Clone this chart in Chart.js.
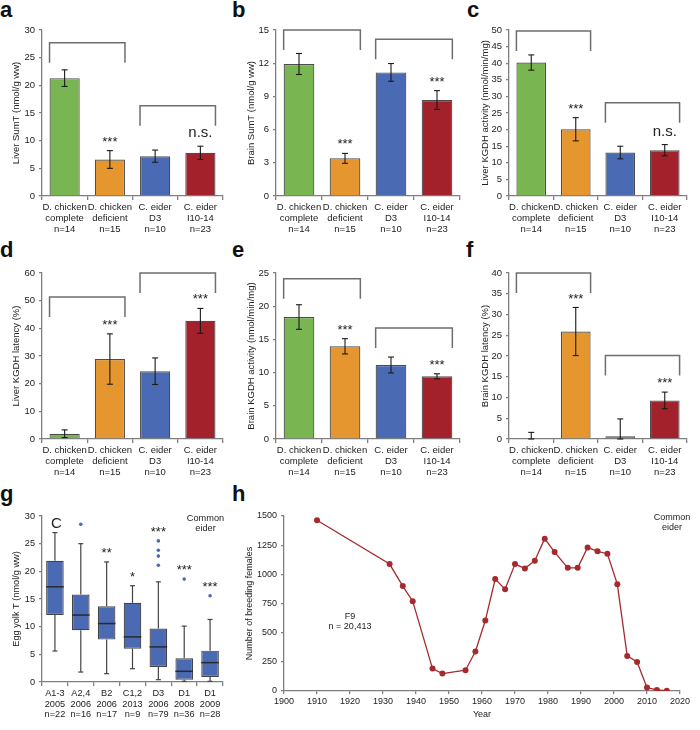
<!DOCTYPE html>
<html>
<head>
<meta charset="utf-8">
<script src="https://cdn.jsdelivr.net/npm/chart.js@4.4.1/dist/chart.umd.min.js"></script>
<style>
body{margin:0;width:700px;height:730px;position:relative;overflow:hidden;background:#fff;font-family:"Liberation Sans",Arial,sans-serif;}
canvas{position:absolute;}
.tag{position:absolute;font-size:22px;line-height:22px;font-weight:bold;color:#111;}
</style>
</head>
<body>
<div class="tag" style="left:0px;top:-1px">a</div>
<div class="tag" style="left:232px;top:-1px">b</div>
<div class="tag" style="left:467px;top:-1px">c</div>
<div class="tag" style="left:0px;top:239px">d</div>
<div class="tag" style="left:232px;top:239px">e</div>
<div class="tag" style="left:466px;top:239px">f</div>
<div class="tag" style="left:0px;top:483px">g</div>
<div class="tag" style="left:232px;top:483px">h</div>

<canvas id="cA"></canvas>
<canvas id="cB"></canvas>
<canvas id="cC"></canvas>
<canvas id="cD"></canvas>
<canvas id="cE"></canvas>
<canvas id="cF"></canvas>
<canvas id="cG"></canvas>
<canvas id="cH"></canvas>

<script>
// ----------------------------
// data: bar panels a-f
// ----------------------------

const groups = [
    ["D. chicken", "complete", "n=14"],
    ["D. chicken", "deficient", "n=15"],
    ["C. eider", "D3", "n=10"],
    ["C. eider", "I10-14", "n=23"]
];
const groupColors = ["#79b652", "#e5962f", "#4a6ab4", "#a3212b"];

const liverSumT = [21.3, 6.6, 7.2, 7.8];
const liverSumTErr = [1.5, 1.6, 1.1, 1.2];
const liverSumTSig = ["", "***", "", "n.s."];
const liverSumTBrackets = [[0, 1, 27.7], [2, 3, 16.3]];

const brainSumT = [11.93, 3.4, 11.17, 8.67];
const brainSumTErr = [0.95, 0.45, 0.8, 0.85];
const brainSumTSig = ["", "***", "", "***"];
const brainSumTBrackets = [[0, 1, 15.0], [2, 3, 14.16]];

const liverKgdh = [40.2, 20.1, 13.1, 13.8];
const liverKgdhErr = [2.3, 3.5, 1.9, 1.7];
const liverKgdhSig = ["", "***", "", "n.s."];
const liverKgdhBrackets = [[0, 1, 49.7], [2, 3, 28.1]];

const liverLatency = [1.9, 28.9, 24.5, 42.7];
const liverLatencyErr = [1.4, 9.1, 4.8, 4.5];
const liverLatencySig = ["", "***", "", "***"];
const liverLatencyBrackets = [[0, 1, 51.3], [2, 3, 60]];

const brainKgdh = [18.37, 13.96, 11.14, 9.44];
const brainKgdhErr = [1.85, 1.15, 1.2, 0.38];
const brainKgdhSig = ["", "***", "", "***"];
const brainKgdhBrackets = [[0, 1, 24.15], [2, 3, 16.7]];

const brainLatency = [0, 25.9, 0.64, 9.3];
const brainLatencyErr = [1.6, 5.8, 4.2, 2.0];
const brainLatencySig = ["", "***", "", "***"];
const brainLatencyBrackets = [[0, 1, 40], [2, 3, 20.1]];

// ----------------------------
// data: egg yolk boxes (g)
// ----------------------------

const yolkGroups = [
    ["A1-3", "2005", "n=22"],
    ["A2,4", "2006", "n=16"],
    ["B2", "2006", "n=17"],
    ["C1,2", "2013", "n=9"],
    ["D3", "2006", "n=79"],
    ["D1", "2008", "n=36"],
    ["D1", "2009", "n=28"]
];
const yolkMin = [5.6, 1.8, 1.5, 2.4, 0.42, 0.12, 0.12];
const yolkQ1 = [12.1, 9.35, 7.66, 6.03, 2.72, 0.42, 0.9];
const yolkMedian = [17.2, 12.1, 10.56, 8.15, 6.34, 1.93, 3.5];
const yolkQ3 = [21.9, 15.8, 13.7, 14.3, 9.66, 4.28, 5.67];
const yolkMax = [27.0, 25.0, 21.7, 17.4, 18.1, 10.1, 11.3];
const yolkOutliers = [[], [28.5], [], [], [25.5, 23.8, 22.75, 21.1], [18.6], [15.6]];
const yolkSig = ["", "", "**", "*", "***", "***", "***"];

// ----------------------------
// data: breeding females (h)
// ----------------------------

const years = [1910, 1932, 1936, 1939, 1945, 1948, 1955, 1958, 1961, 1964, 1967, 1970, 1973, 1976,
    1979, 1982, 1986, 1989, 1992, 1995, 1998, 2001, 2004, 2007, 2010, 2013, 2016];
const females = [1463, 1088, 899, 770, 192, 149, 178, 338, 604, 959, 873, 1088, 1051, 1117,
    1306, 1191, 1056, 1056, 1231, 1197, 1177, 916, 301, 249, 29, 9, 3];

// ----------------------------
// shared styling
// ----------------------------

const FONT = '"Liberation Sans", Arial, Helvetica, sans-serif';
const AXIS = "#7f7f7f";
const INK = "#222222";
const LINE_RED = "#a52a2e";

Chart.defaults.font.family = FONT;
Chart.defaults.animation = false;

function place(id, left, top, width, height) {
    const c = document.getElementById(id);
    c.width = width;
    c.height = height;
    c.style.left = left + "px";
    c.style.top = top + "px";
    c.style.width = width + "px";
    c.style.height = height + "px";
    return c;
}

function axisY(max, step, title, titlePad, width, size) {
    return {
        min: 0, max: max,
        ticks: {stepSize: step, color: INK, padding: 4, font: {size: size}, callback: v => String(v)},
        grid: {drawOnChartArea: false, tickLength: 3, color: AXIS, lineWidth: 1.3},
        border: {color: AXIS, width: 1.3},
        title: {display: true, text: title, color: INK,
            font: {size: size, lineHeight: 1.15}, padding: {top: titlePad, bottom: 0}},
        afterFit: s => { s.width = width; }
    };
}

function axisCat(height, size) {
    return {
        ticks: {color: INK, padding: 2, maxRotation: 0, minRotation: 0, autoSkip: false,
            font: {size: size, lineHeight: 1.16}},
        grid: {drawOnChartArea: false, tickLength: 4, color: AXIS, lineWidth: 1.3, offset: true},
        border: {color: AXIS, width: 1.3},
        afterFit: s => { s.height = height; }
    };
}

function strokeLine(ctx, x1, y1, x2, y2) {
    ctx.beginPath();
    ctx.moveTo(x1, y1);
    ctx.lineTo(x2, y2);
    ctx.stroke();
}

// ----------------------------
// brackets, error bars, whiskers, stars
// ----------------------------

const marks = {
    id: "marks",
    afterDatasetsDraw(chart, args, o) {
        const ctx = chart.ctx;
        const ys = chart.scales.y;
        const bars = chart.getDatasetMeta(0).data;
        const values = chart.data.datasets[0].data;
        ctx.save();

        // comparison brackets
        ctx.strokeStyle = "#6e6e6e";
        ctx.lineWidth = 1.5;
        (o.brackets || []).forEach(([i, j, v]) => {
            const x1 = bars[i].x - bars[i].width / 2;
            const x2 = bars[j].x + bars[j].width / 2;
            const yb = ys.getPixelForValue(v);
            ctx.beginPath();
            ctx.moveTo(x1, yb + 20);
            ctx.lineTo(x1, yb);
            ctx.lineTo(x2, yb);
            ctx.lineTo(x2, yb + 20);
            ctx.stroke();
        });

        // error bars (mean +- err)
        if (o.errs) {
            ctx.strokeStyle = "#1a1a1a";
            ctx.lineWidth = 1.1;
            o.errs.forEach((e, i) => {
                const x = bars[i].x;
                const top = ys.getPixelForValue(values[i] + e);
                const bot = ys.getPixelForValue(Math.max(0, values[i] - e));
                strokeLine(ctx, x, top, x, bot);
                strokeLine(ctx, x - 3, top, x + 3, top);
                strokeLine(ctx, x - 3, bot, x + 3, bot);
            });
        }

        // box plot whiskers and medians
        if (o.box) {
            bars.forEach((b, i) => {
                const x = b.x, hw = b.width / 2;
                const pMin = ys.getPixelForValue(o.box.min[i]);
                const pMax = ys.getPixelForValue(o.box.max[i]);
                const pQ1 = ys.getPixelForValue(o.box.q1[i]);
                const pQ3 = ys.getPixelForValue(o.box.q3[i]);
                const pMed = ys.getPixelForValue(o.box.med[i]);
                ctx.strokeStyle = "#444";
                ctx.lineWidth = 1.2;
                strokeLine(ctx, x, pQ3, x, pMax);
                strokeLine(ctx, x - 2.5, pMax, x + 2.5, pMax);
                strokeLine(ctx, x, pQ1, x, pMin);
                strokeLine(ctx, x - 2.5, pMin, x + 2.5, pMin);
                ctx.strokeStyle = "#2a2a2a";
                ctx.lineWidth = 1.5;
                strokeLine(ctx, x - hw, pMed, x + hw, pMed);
            });
        }

        // significance labels
        ctx.fillStyle = INK;
        ctx.textAlign = "center";
        ctx.textBaseline = "middle";
        (o.sig || []).forEach((s, i) => {
            if (!s) return;
            const x = bars[i].x;
            const top = ys.getPixelForValue(o.tops[i]);
            if (s === "n.s.") {
                ctx.font = "15px " + FONT;
                ctx.fillText(s, x, top - 13);
            } else {
                ctx.font = "13px " + FONT;
                ctx.fillText(s, x, top - 8.5);
            }
        });

        ctx.restore();
    }
};

// ----------------------------
// bar panels
// ----------------------------

function barPanel(id, plot, yMax, yStep, yTitle, titleX, values, errs, sig, brackets) {
    const left = plot.l - 44, top = plot.t - 10;
    const width = plot.r + 10 - left, height = plot.b + 44 - top;
    new Chart(place(id, left, top, width, height), {
        type: "bar",
        data: {
            labels: groups,
            datasets: [{
                data: values,
                backgroundColor: groupColors,
                borderColor: "#4d4d4d",
                borderWidth: 1.2,
                borderSkipped: "bottom",
                barPercentage: 0.667,
                categoryPercentage: 1
            }]
        },
        options: {
            responsive: false,
            layout: {padding: {top: 10, right: 10, left: 0, bottom: 0}},
            plugins: {
                legend: {display: false},
                tooltip: {enabled: false},
                marks: {errs: errs, sig: sig, brackets: brackets, tops: values.map((v, i) => v + errs[i])}
            },
            scales: {
                x: axisCat(44, 9.5),
                y: axisY(yMax, yStep, yTitle, titleX - left - 5.5, 44, 9.5)
            }
        },
        plugins: [marks]
    });
}

const rowTop = {t: 30, b: 196};
const rowMid = {t: 273, b: 439};

barPanel("cA", {l: 42, r: 223, ...rowTop}, 30, 5, "Liver SumT (nmol/g ww)", 16,
    liverSumT, liverSumTErr, liverSumTSig, liverSumTBrackets);
barPanel("cB", {l: 276, r: 460, ...rowTop}, 15, 3, "Brain SumT (nmol/g ww)", 251,
    brainSumT, brainSumTErr, brainSumTSig, brainSumTBrackets);
barPanel("cC", {l: 509, r: 687, ...rowTop}, 50, 5, "Liver KGDH activity (nmol/min/mg)", 485,
    liverKgdh, liverKgdhErr, liverKgdhSig, liverKgdhBrackets);
barPanel("cD", {l: 42, r: 223, ...rowMid}, 60, 10, "Liver KGDH latency (%)", 16,
    liverLatency, liverLatencyErr, liverLatencySig, liverLatencyBrackets);
barPanel("cE", {l: 276, r: 460, ...rowMid}, 25, 5, "Brain KGDH activity (nmol/min/mg)", 251,
    brainKgdh, brainKgdhErr, brainKgdhSig, brainKgdhBrackets);
barPanel("cF", {l: 509, r: 687, ...rowMid}, 40, 5, "Brain KGDH latency (%)", 485,
    brainLatency, brainLatencyErr, brainLatencySig, brainLatencyBrackets);

// ----------------------------
// g: egg yolk T box plot
// ----------------------------

const gNotes = {
    id: "gNotes",
    afterDraw(chart) {
        const ctx = chart.ctx, a = chart.chartArea;
        const first = chart.getDatasetMeta(0).data[0];
        ctx.save();
        ctx.fillStyle = INK;
        ctx.textAlign = "center";
        ctx.textBaseline = "alphabetic";
        ctx.font = "15px " + FONT;
        ctx.fillText("C", first.x + 1.5, a.top + 12);
        ctx.textBaseline = "middle";
        ctx.font = "9.2px " + FONT;
        ctx.fillText("Common", a.right - 17.5, a.top + 2);
        ctx.fillText("eider", a.right - 17.5, a.top + 12.5);
        ctx.restore();
    }
};

new Chart(place("cG", -2, 506, 235, 220), {
    type: "bar",
    data: {
        labels: yolkGroups,
        datasets: [{
            data: yolkQ1.map((q, i) => [q, yolkQ3[i]]),
            backgroundColor: "#4a6ab4",
            borderColor: "#444",
            borderWidth: 1.2,
            borderSkipped: false,
            barPercentage: 0.68,
            categoryPercentage: 1
        }, {
            type: "line",
            showLine: false,
            data: yolkOutliers.flatMap((arr, i) => arr.map(v => ({x: yolkGroups[i], y: v}))),
            pointRadius: 1.8,
            pointBackgroundColor: "#4a6ab4",
            pointBorderWidth: 0
        }]
    },
    options: {
        responsive: false,
        layout: {padding: {top: 10, right: 10, left: 0, bottom: 0}},
        plugins: {
            legend: {display: false},
            tooltip: {enabled: false},
            marks: {
                box: {min: yolkMin, q1: yolkQ1, med: yolkMedian, q3: yolkQ3, max: yolkMax},
                sig: yolkSig,
                tops: yolkMax.map((m, i) => Math.max(m, ...yolkOutliers[i]))
            }
        },
        scales: {
            x: axisCat(44, 9.2),
            y: axisY(30, 5, "Egg yolk T (nmol/g ww)", 16 + 2 - 5.3, 44, 9.2)
        }
    },
    plugins: [marks, gNotes]
});

// ----------------------------
// h: breeding females line
// ----------------------------

const hNotes = {
    id: "hNotes",
    afterDraw(chart) {
        const ctx = chart.ctx, a = chart.chartArea;
        const x = chart.scales.x.getPixelForValue(1920);
        const y = chart.scales.y.getPixelForValue(600);
        ctx.save();
        ctx.fillStyle = INK;
        ctx.textAlign = "center";
        ctx.textBaseline = "middle";
        ctx.font = "9px " + FONT;
        ctx.fillText("F9", x, y - 4.5);
        ctx.fillText("n = 20,413", x, y + 6);
        ctx.fillText("Common", a.right - 8, a.top + 2);
        ctx.fillText("eider", a.right - 8, a.top + 12);
        ctx.restore();
    }
};

new Chart(place("cH", 232, 506, 466, 219), {
    type: "line",
    data: {
        datasets: [{
            data: years.map((yr, i) => ({x: yr, y: females[i]})),
            borderColor: LINE_RED,
            backgroundColor: LINE_RED,
            pointBackgroundColor: LINE_RED,
            pointBorderColor: LINE_RED,
            pointRadius: 3,
            pointBorderWidth: 0,
            borderWidth: 1.3,
            tension: 0
        }]
    },
    options: {
        responsive: false,
        layout: {padding: {top: 10, right: 18, left: 0, bottom: 0}},
        plugins: {legend: {display: false}, tooltip: {enabled: false}},
        scales: {
            x: {
                type: "linear", min: 1900, max: 2020,
                ticks: {stepSize: 10, color: INK, padding: 2, font: {size: 9}, callback: v => String(v)},
                grid: {drawOnChartArea: false, tickLength: 3, color: AXIS, lineWidth: 1.3},
                border: {color: AXIS, width: 1.3},
                title: {display: true, text: "Year", color: INK,
                    font: {size: 9, lineHeight: 1.15}, padding: {top: 0, bottom: 5.5}},
                afterFit: s => { s.height = 34; }
            },
            y: axisY(1500, 250, "Number of breeding females", 12.8, 52, 9)
        }
    },
    plugins: [hNotes]
});
</script>
</body>
</html>
